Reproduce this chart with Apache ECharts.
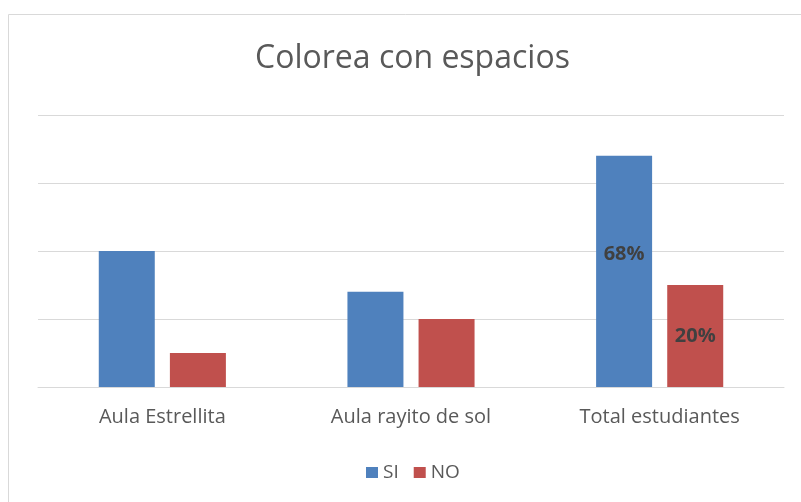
<!DOCTYPE html>
<html>
<head>
<meta charset="utf-8">
<script src="https://cdn.jsdelivr.net/npm/echarts@6/dist/echarts.min.js"></script>
<style>
  html, body { margin: 0; padding: 0; background: #fff; }
  #chart { width: 801px; height: 502px; }
</style>
</head>
<body>
<div id="chart"></div>
<script>
// Student counts per classroom
const categories = ['Aula Estrellita', 'Aula rayito de sol', 'Total estudiantes'];
const siValues = [20, 14, 34];
const noValues = [5, 10, 15];
// Percent labels shown on the totals only
const siLabels = ['', '', '68%'];
const noLabels = ['', '', '20%'];

const FONT = '"Open Sans", "Noto Sans", sans-serif';
const chart = echarts.init(document.getElementById('chart'));

const labelStyle = {
  show: true,
  position: 'inside',
  fontFamily: FONT,
  fontSize: 20,
  fontWeight: 'bold',
  color: '#404040'
};

chart.setOption({
  animation: false,
  graphic: [{
    type: 'rect',
    shape: { x: 8.5, y: 14.5, width: 800, height: 500 },
    style: { fill: 'none', stroke: '#d9d9d9', lineWidth: 1 },
    silent: true
  }],
  title: {
    text: 'Colorea con espacios',
    left: 250,
    top: 38,
    textStyle: { fontFamily: FONT, fontSize: 32, fontWeight: 'normal', color: '#595959' }
  },
  legend: {
    data: ['SI', 'NO'],
    top: 458,
    left: 361,
    itemWidth: 12,
    itemHeight: 11,
    itemGap: 15,
    icon: 'rect',
    textStyle: { fontFamily: FONT, fontSize: 19, color: '#595959' }
  },
  grid: { left: 38, right: 17, top: 115, bottom: 115, containLabel: false },
  xAxis: {
    type: 'category',
    data: categories,
    axisLine: { show: true, lineStyle: { color: '#d9d9d9', width: 1 } },
    axisTick: { show: false },
    axisLabel: { fontFamily: FONT, fontSize: 20, color: '#595959', margin: 20 }
  },
  yAxis: {
    type: 'value',
    min: 0,
    max: 40,
    interval: 10,
    axisLabel: { show: false },
    axisLine: { show: false },
    axisTick: { show: false },
    splitLine: { lineStyle: { color: '#d9d9d9', width: 1 } }
  },
  series: [
    {
      name: 'SI',
      type: 'bar',
      data: siValues,
      barWidth: 56,
      barGap: '27%',
      itemStyle: { color: '#4f81bd' },
      label: Object.assign({}, labelStyle, {
        offset: [0, -17],
        formatter: p => siLabels[p.dataIndex]
      })
    },
    {
      name: 'NO',
      type: 'bar',
      data: noValues,
      barWidth: 56,
      barGap: '27%',
      itemStyle: { color: '#c0504d' },
      label: Object.assign({}, labelStyle, {
        formatter: p => noLabels[p.dataIndex]
      })
    }
  ]
});
</script>
</body>
</html>
